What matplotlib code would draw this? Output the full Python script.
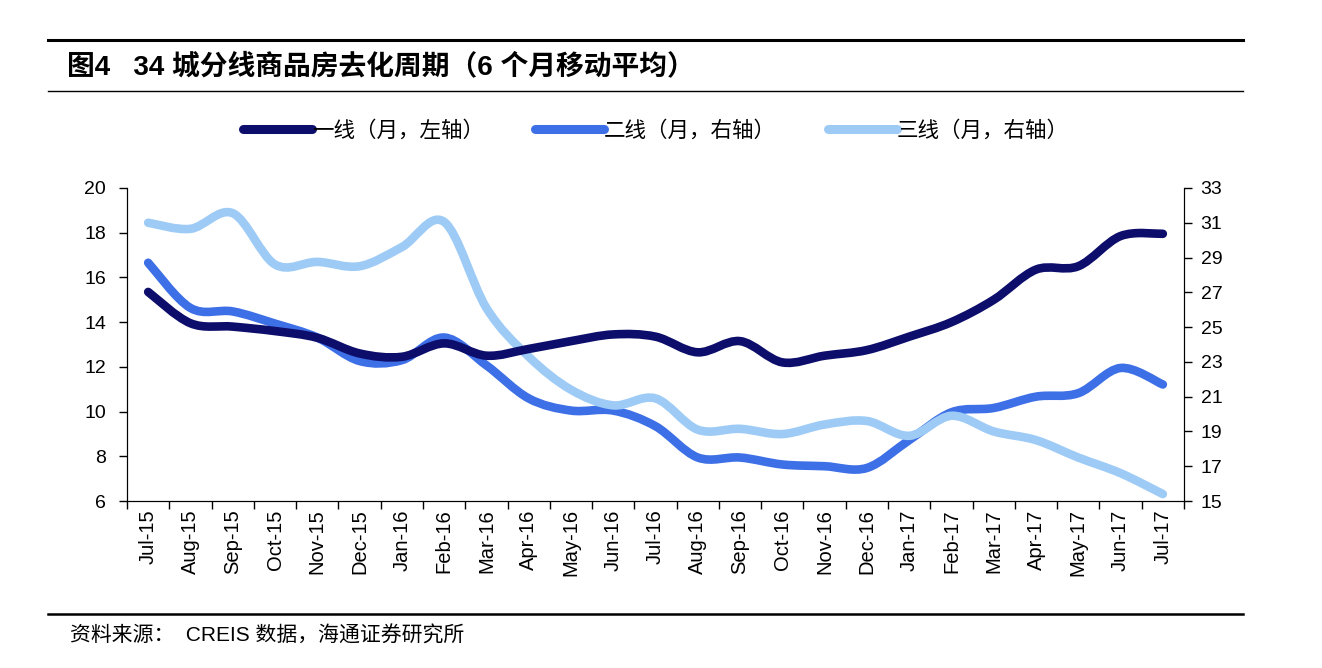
import numpy as np
import matplotlib.pyplot as plt
from matplotlib.lines import Line2D
from matplotlib.path import Path
from matplotlib.patches import PathPatch

plt.rcParams['font.family'] = ['Liberation Sans', 'Noto Sans CJK SC', 'DejaVu Sans']

MONTHS = ['Jul-15', 'Aug-15', 'Sep-15', 'Oct-15', 'Nov-15', 'Dec-15', 'Jan-16', 'Feb-16',
          'Mar-16', 'Apr-16', 'May-16', 'Jun-16', 'Jul-16', 'Aug-16', 'Sep-16', 'Oct-16',
          'Nov-16', 'Dec-16', 'Jan-17', 'Feb-17', 'Mar-17', 'Apr-17', 'May-17', 'Jun-17', 'Jul-17']
TIER1 = [15.35, 13.95, 13.8, 13.6, 13.3, 12.6, 12.45, 13.05, 12.5, 12.8, 13.15, 13.45, 13.35,
         12.65, 13.15, 12.2, 12.5, 12.75, 13.35, 14.0, 15.0, 16.35, 16.5, 17.85, 17.95]
TIER2 = [28.7, 26.1, 25.9, 25.2, 24.4, 23.05, 23.1, 24.4, 22.8, 20.9, 20.2, 20.2, 19.3,
         17.5, 17.5, 17.1, 17.0, 16.9, 18.5, 20.1, 20.35, 21.0, 21.2, 22.65, 21.7]
TIER3 = [31.0, 30.65, 31.55, 28.6, 28.75, 28.5, 29.6, 31.05, 26.1, 23.3, 21.4, 20.5, 20.9,
         19.1, 19.15, 18.85, 19.4, 19.6, 18.75, 19.9, 19.0, 18.5, 17.5, 16.6, 15.4]
LABELS = ['一线（月，左轴）', '二线（月，右轴）', '三线（月，右轴）']
COLORS = ['#0D0D6B', '#3D6FE6', '#9DCBF6']
LW = 6.2


def smooth_line(ax, xs, ys, color, z=2):
    # Excel-style smoothed line: cubic Bezier through every point
    p = np.column_stack([xs, ys]).astype(float)
    pad = np.vstack([p[:1], p, p[-1:]])
    verts, codes = [p[0]], [Path.MOVETO]
    for i in range(len(p) - 1):
        c1 = p[i] + (pad[i + 2] - pad[i]) / 6.0
        c2 = p[i + 1] - (pad[i + 3] - pad[i + 1]) / 6.0
        verts += [c1, c2, p[i + 1]]
        codes += [Path.CURVE4] * 3
    patch = PathPatch(Path(verts, codes), facecolor='none', edgecolor=color, lw=LW,
                      capstyle='round', joinstyle='round', zorder=z)
    ax.add_patch(patch)


fig = plt.figure(figsize=(13.22, 6.68), dpi=100)
ax = fig.add_axes([0.0961, 0.25, 0.7995, 0.4686])
ax2 = ax.twinx()

x = np.arange(len(MONTHS))
smooth_line(ax2, x, TIER2, COLORS[1])
smooth_line(ax2, x, TIER3, COLORS[2])
smooth_line(ax, x, TIER1, COLORS[0], z=3)
ax.set_zorder(ax2.get_zorder() + 1); ax.patch.set_visible(False)

ax.set_xlim(-0.5, len(MONTHS) - 0.5)
ax.set_ylim(6, 20); ax.set_yticks(range(6, 21, 2))
ax2.set_ylim(15, 33); ax2.set_yticks(range(15, 34, 2))
ax.set_xticks(x)
ax.set_xticklabels(MONTHS, rotation=90, fontsize=14.5)
ax.set_xticks(np.arange(-0.5, len(MONTHS)), minor=True)
ax.tick_params(axis='x', which='major', length=0, pad=6)
ax.tick_params(axis='x', which='minor', length=6, direction='out', width=1)
ax.tick_params(axis='y', labelsize=14, length=6, width=1, direction='out', pad=9)
ax2.tick_params(axis='y', labelsize=14, length=6, width=1, direction='out', pad=6)
for a in (ax, ax2):
    a.spines['top'].set_visible(False)
ax2.spines['right'].set_color('#1a1a4a')

handles = [Line2D([0], [0], color=c, lw=6.5, solid_capstyle='round') for c in COLORS]
fig.legend(handles, LABELS, loc='center', bbox_to_anchor=(0.496, 0.804), ncol=3,
           frameon=False, handlelength=3.2, handletextpad=0.0, columnspacing=2.4,
           prop={'family': ['Noto Sans CJK SC'], 'size': 15.5})

# title and rules
fig.add_artist(Line2D([0.036, 0.94], [0.940, 0.940], color='black', lw=2.2))
fig.add_artist(Line2D([0.036, 0.94], [0.864, 0.864], color='black', lw=1))
fig.add_artist(Line2D([0.036, 0.94], [0.081, 0.081], color='black', lw=1.8))
fig.text(0.051, 0.900, '图4   34 城分线商品房去化周期（6 个月移动平均）', fontsize=20,
         fontweight='bold', va='center', family=['Liberation Sans', 'Noto Sans CJK SC'])
fig.text(0.053, 0.048, '资料来源：  CREIS 数据，海通证券研究所', fontsize=15, va='center',
         family=['Liberation Sans', 'Noto Sans CJK SC'])

fig.savefig('out.png', dpi=100)
